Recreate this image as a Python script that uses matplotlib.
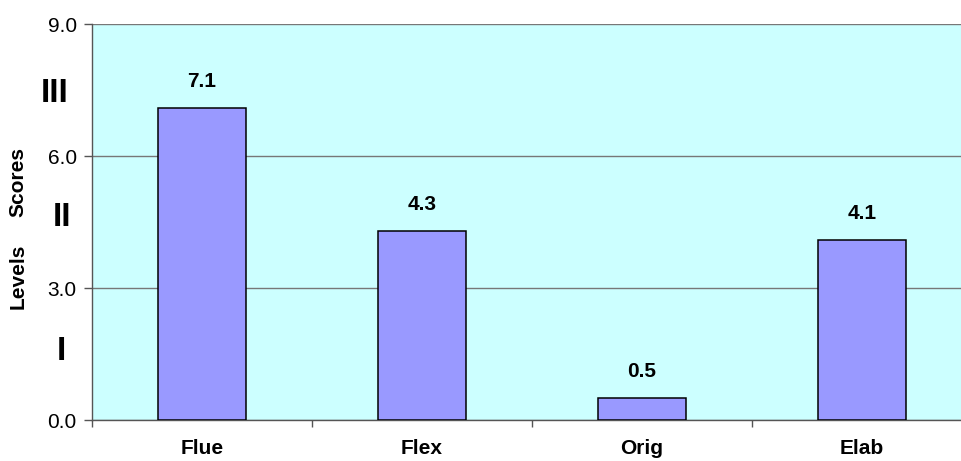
import matplotlib
matplotlib.use("Agg")
import matplotlib.pyplot as plt
import numpy as np

plt.rcParams['font.family'] = ['Liberation Sans', 'DejaVu Sans']

categories = ["Flue", "Flex", "Orig", "Elab"]
scores = [7.1, 4.3, 0.5, 4.1]
y_ticks = [0.0, 3.0, 6.0, 9.0]
level_labels = ["I", "II", "III"]
level_positions = [1.55, 4.61, 7.43]

W, H = 962, 461
fig = plt.figure(figsize=(W / 100, H / 100), dpi=100)
fig.patch.set_facecolor("white")
ax = fig.add_axes([92 / W, 1 - 420 / H, 880 / W, 396 / H])
ax.set_facecolor("#CCFFFF")

x = np.arange(len(categories))
bars = ax.bar(x, scores, width=0.4, color="#9999FF", edgecolor="black",
              linewidth=1.1, zorder=3)

for xi, v in zip(x, scores):
    ax.annotate(f"{v:.1f}", (xi, v), xytext=(0, 12), textcoords="offset points",
                ha="center", va="bottom", fontsize=15, fontweight="bold")

ax.set_xlim(-0.5, len(categories) - 0.5)
ax.set_ylim(0, 9)
ax.set_yticks(y_ticks)
ax.set_yticklabels([f"{t:.1f}" for t in y_ticks], fontsize=15)
ax.yaxis.grid(True, color="#777777", linewidth=1.0, zorder=0)
ax.set_axisbelow(True)

# category labels centred on bars, tick marks at category boundaries
ax.set_xticks(np.arange(-0.5, len(categories), 1.0))
ax.set_xticklabels([])
ax.set_xticks(x, minor=True)
ax.set_xticklabels(categories, minor=True, fontsize=15, fontweight="bold")
ax.tick_params(axis="x", which="minor", length=0, pad=14)
ax.tick_params(axis="x", which="major", length=5, width=1, color="#555555", direction="out")
ax.tick_params(axis="y", length=6, width=1, color="#555555", direction="out", pad=5)

for side in ("top", "right"):
    ax.spines[side].set_visible(False)
ax.spines["left"].set_color("#555555")
ax.spines["bottom"].set_color("#555555")
ax.spines["left"].set_linewidth(1.0)
ax.spines["bottom"].set_linewidth(1.0)

# level numerals alongside the score axis
numeral_x = {"I": 61, "II": 62, "III": 55}
for lab, pos in zip(level_labels, level_positions):
    ax.annotate(lab, xy=(numeral_x[lab] / W, pos), xycoords=("figure fraction", "data"),
                ha="center", va="center", fontsize=24, fontweight="bold",
                annotation_clip=False)

fig.text(18 / W, 1 - 276 / H, "Levels", rotation=90, ha="center", va="center",
         fontsize=15, fontweight="bold")
fig.text(18 / W, 1 - 182 / H, "Scores", rotation=90, ha="center", va="center",
         fontsize=15, fontweight="bold")

fig.savefig("out.png", dpi=100)
